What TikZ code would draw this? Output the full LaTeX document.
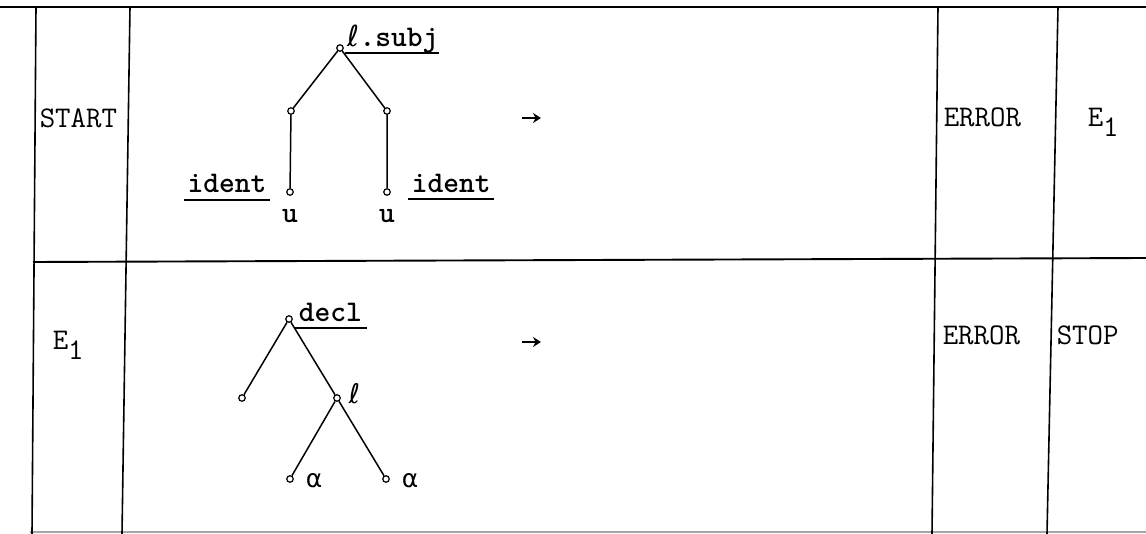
\documentclass[tikz,border=0pt]{standalone}
\usepackage{fontspec}
\newfontfamily\simbol{DejaVu Sans}
\usetikzlibrary{arrows.meta}
\tikzset{
  simpul/.style={circle, draw, fill=white, inner sep=0pt, minimum size=6.5pt, line width=1.2pt},
  teks/.style={inner sep=0pt, font=\fontsize{30}{34}\selectfont\ttfamily},
  tebal/.style={teks, font=\fontsize{30}{34}\selectfont\ttfamily\bfseries},
  huruf/.style={inner sep=0pt, anchor=base west},
  garisbawah/.style={line width=1.7pt},
  panah/.style={-{Stealth[length=8pt, width=10pt]}, line width=1.8pt}
}
\newcommand{\Esatu}{E\raisebox{-10pt}{1}}
\begin{document}
\begin{tikzpicture}[x=1pt, y=-1pt, line width=1.5pt]
    % Batas gambar
    \useasboundingbox (0,0) rectangle (1146,534);

    % Garis tabel
    \draw[line width=1.9pt] (0,7) -- (1146,7);
    \draw[line width=1.9pt] (33,262) -- (1146,258);
    \draw[gray!70, line width=1.6pt] (30,532) -- (1146,532);
    \draw[line width=1.6pt] (36,7) -- (32,534);
    \draw[line width=1.6pt] (130,7) -- (122,534);
    \draw[line width=1.6pt] (938,7) -- (932,534);
    \draw[line width=1.6pt] (1058,7) -- (1047,534);

    % Baris pertama: label
    \node[teks, anchor=base west] (start) at (39,128) {START};
    \node[teks, anchor=base west] (err1) at (943,127) {ERROR};
    \node[teks, anchor=base west] (e1kanan) at (1087,127) {\Esatu};
    \coordinate (p1a) at (522,118);
    \coordinate (p1b) at (541,118);
    \draw[panah] (p1a) -- (p1b);

    % Pohon pertama
    \node[simpul] (akar1) at (340,48) {};
    \node[simpul] (kiri1) at (291,111) {};
    \node[simpul] (kanan1) at (387,111) {};
    \node[simpul] (daunkiri1) at (290,192) {};
    \node[simpul] (daunkanan1) at (387,192) {};
    \draw (akar1) -- (kiri1) -- (daunkiri1);
    \draw (akar1) -- (kanan1) -- (daunkanan1);

    % Label pohon pertama
    \node[tebal, anchor=base west] (subj) at (347,47) {{\simbol\mdseries\fontsize{29}{30}\selectfont ℓ}.subj};
    \draw[garisbawah] ([xshift=-2pt, yshift=-6pt]subj.base west) -- ([yshift=-6pt]subj.base east);
    \node[tebal, anchor=base east] (identkiri) at (267,193) {ident};
    \draw[garisbawah] ([xshift=-3pt, yshift=-7pt]identkiri.base west) -- ([xshift=3pt, yshift=-7pt]identkiri.base east);
    \node[tebal, anchor=base west] (identkanan) at (411,193) {ident};
    \draw[garisbawah] ([xshift=-3pt, yshift=-6pt]identkanan.base west) -- ([xshift=3pt, yshift=-6pt]identkanan.base east);
    \node[tebal, anchor=base] (ukiri) at (290,223) {u};
    \node[tebal, anchor=base] (ukanan) at (387,223) {u};

    % Baris kedua: label
    \node[teks, anchor=base west] (e1kiri) at (52,350) {\Esatu};
    \node[teks, anchor=base west] (err2) at (942,345) {ERROR};
    \node[teks, anchor=base west] (stop) at (1056,345) {STOP};
    \coordinate (p2a) at (522,342);
    \coordinate (p2b) at (541,342);
    \draw[panah] (p2a) -- (p2b);

    % Pohon kedua
    \node[simpul] (akar2) at (289,319) {};
    \node[simpul] (kiri2) at (242,398) {};
    \node[simpul] (kanan2) at (337,398) {};
    \node[simpul] (daunkiri2) at (290,479) {};
    \node[simpul] (daunkanan2) at (386,479) {};
    \draw (akar2) -- (kiri2);
    \draw (akar2) -- (kanan2) -- (daunkiri2);
    \draw (kanan2) -- (daunkanan2);

    % Label pohon kedua
    \node[tebal, anchor=base west] (decl) at (298,322) {decl};
    \draw[garisbawah] ([xshift=-4pt, yshift=-6pt]decl.base west) -- ([xshift=4pt, yshift=-6pt]decl.base east);
    \node[huruf, font=\simbol\fontsize{27}{30}\selectfont] (ell) at (348,403) {ℓ};
    \node[huruf, font=\simbol\fontsize{25}{28}\selectfont] (alfa1) at (305,487) {α};
    \node[huruf, font=\simbol\fontsize{25}{28}\selectfont] (alfa2) at (401,487) {α};

\end{tikzpicture}
\end{document}
